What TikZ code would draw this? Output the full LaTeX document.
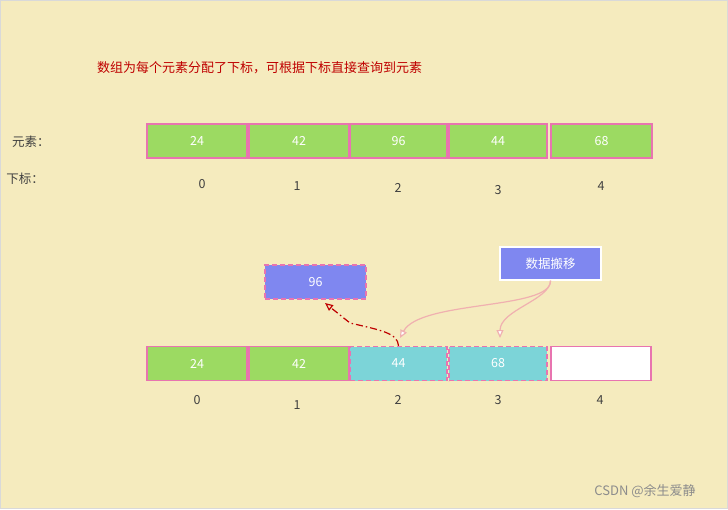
\documentclass[tikz,border=0pt]{standalone}
\usepackage{fontspec}
\setmainfont{Noto Sans CJK SC}
\usetikzlibrary{arrows.meta}
\definecolor{bg}{HTML}{F5EBBE}
\definecolor{gr}{HTML}{9CDA62}
\definecolor{pk}{HTML}{E874B0}
\definecolor{cy}{HTML}{7CD4D8}
\definecolor{bl}{HTML}{7F87F0}
\definecolor{lp}{HTML}{F0B0B0}
\begin{document}
\begin{tikzpicture}[x=1pt,y=-1pt,
 cell/.style={draw=pk,line width=1.3pt,minimum width=#1,minimum height=34pt,inner sep=0pt,text=white,font=\fontsize{12.5}{14}\selectfont},
 idx/.style={font=\fontsize{12.5}{14}\selectfont,text=black!75},
 dsh/.style={dashed,dash pattern=on 5pt off 3pt}]
\fill[bg,draw=black!15] (0.5,0.5) rectangle (727.5,508.5);
\useasboundingbox (0,0) rectangle (728,509);
\node[font=\fontsize{13}{15}\selectfont,text=red!75!black,anchor=west,inner sep=0pt] (t) at (97,68) {数组为每个元素分配了下标，可根据下标直接查询到元素};
\node[idx] (ly) at (31,142) {元素：};
\node[idx] (lx) at (25,179) {下标：};
\node[cell=100pt,fill=gr] (a0) at (197,141) {24};
\node[cell=100pt,fill=gr] (a1) at (299,141) {42};
\node[cell=97pt,fill=gr] (a2) at (398.5,141) {96};
\node[cell=98pt,fill=gr] (a3) at (498,141) {44};
\node[cell=101pt,fill=gr] (a4) at (601.5,141) {68};
\node[idx] (i0) at (202,184) {0};
\node[idx] (i1) at (297,186) {1};
\node[idx] (i2) at (398,188) {2};
\node[idx] (i3) at (498,190) {3};
\node[idx] (i4) at (601,186) {4};
\node[cell=100pt,fill=gr] (b0) at (197,363.5) {24};
\node[cell=100pt,fill=gr] (b1) at (299,363.5) {42};
\node[cell=97pt,fill=cy,dsh] (b2) at (398.5,363.5) {44};
\node[cell=98pt,fill=cy,dsh] (b3) at (498,363.5) {68};
\node[cell=100pt,fill=white] (b4) at (601,363.5) {};
\node[idx] (j0) at (197,400) {0};
\node[idx] (j1) at (297,405) {1};
\node[idx] (j2) at (398,400) {2};
\node[idx] (j3) at (498,400) {3};
\node[idx] (j4) at (600,400) {4};
\node[cell=101pt,minimum height=34pt,fill=bl,dsh] (n96) at (315.5,282) {96};
\node[draw=white,line width=1.2pt,fill=bl,minimum width=101pt,minimum height=33pt,text=white,font=\fontsize{12.5}{14}\selectfont] (mv) at (550.5,263.5) {数据搬移};
\draw[red!75!black,line width=1.2pt,dash pattern=on 7pt off 3pt on 1.5pt off 3pt,-{Triangle[open,length=8pt,width=7pt]}]
 (b2.north) .. controls (398,333) and (380,330) .. (350,323) -- (325,303);
\draw[lp,line width=1.2pt,-{Triangle[open,fill=white,length=8pt,width=7pt]}]
 (mv.south) .. controls (552,310) and (420,300) .. (400,338);
\draw[lp,line width=1.2pt,-{Triangle[open,fill=white,length=8pt,width=7pt]}]
 (mv.south) .. controls (550,300) and (500,310) .. (500,338);
\node[font=\fontsize{13}{15}\selectfont,text=black!45] (wm) at (645,491) {CSDN @余生爱静};
\end{tikzpicture}
\end{document}
